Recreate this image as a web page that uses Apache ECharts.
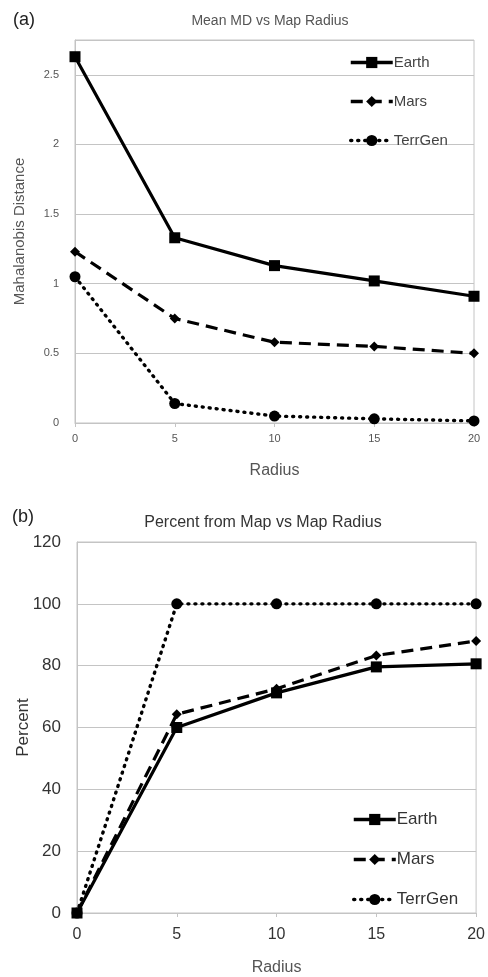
<!DOCTYPE html>
<html>
<head>
<meta charset="utf-8">
<script src="https://cdn.jsdelivr.net/npm/echarts@6/dist/echarts.min.js"></script>
<style>
  html, body { margin: 0; padding: 0; background: #fff; }
  #main { width: 488px; height: 977px; }
</style>
</head>
<body>
<div id="main"></div>
<script>
// radius values shared by both panels
var radius = [0, 5, 10, 15, 20];

// (a) mean Mahalanobis distance
var earthMD = [2.63, 1.33, 1.13, 1.02, 0.91];
var marsMD = [1.23, 0.75, 0.58, 0.55, 0.50];
var terrMD = [1.05, 0.14, 0.05, 0.03, 0.015];

// (b) percent from map
var earthPct = [0, 60, 71.2, 79.6, 80.6];
var marsPct = [0, 64.3, 72.5, 83.3, 88.0];
var terrPct = [0, 100, 100, 100, 100];

var names = ['Earth', 'Mars', 'TerrGen'];

function pairs(ys) {
  return radius.map(function (r, i) { return [r, ys[i]]; });
}

var font = 'Liberation Sans, Arial, sans-serif';
var gridCol = '#c4c4c4';

var styles = [
  { symbol: 'rect', symbolSize: 11, lineStyle: { color: '#000', width: 3.2, type: 'solid' } },
  { symbol: 'diamond', symbolSize: 10, lineStyle: { color: '#000', width: 3.2, type: [12, 7] } },
  { symbol: 'circle', symbolSize: 11, lineStyle: { color: '#000', width: 3.4, type: [1, 6], cap: 'round' } }
];

function mkSeries(gi, datas) {
  return datas.map(function (d, i) {
    return {
      name: names[i],
      type: 'line',
      xAxisIndex: gi,
      yAxisIndex: gi,
      data: pairs(d),
      symbol: styles[i].symbol,
      symbolSize: styles[i].symbolSize,
      showAllSymbol: true,
      itemStyle: { color: '#000' },
      lineStyle: styles[i].lineStyle,
      z: 3 - i
    };
  });
}

function xAxis(gi, fs, col, gap, mg) {
  return {
    type: 'value', gridIndex: gi, min: 0, max: 20, interval: 5,
    name: 'Radius', nameLocation: 'middle', nameGap: gap, nameMoveOverlap: false,
    nameTextStyle: { fontFamily: font, fontSize: 16, color: '#555' },
    axisLine: { show: true, lineStyle: { color: gridCol } },
    axisTick: { show: true, lineStyle: { color: gridCol }, length: 4 },
    axisLabel: { fontFamily: font, fontSize: fs, color: col, margin: mg },
    splitLine: { show: false }
  };
}

var legendLine = { width: 3.5 };

var option = {
  backgroundColor: '#fff',
  animation: false,
  title: [
    { text: '(a)', left: 8, top: 6, textStyle: { fontFamily: font, fontSize: 18, fontWeight: 'normal', color: '#222' } },
    { text: 'Mean MD vs Map Radius', left: 265, textAlign: 'center', top: 9, textStyle: { fontFamily: font, fontSize: 14, fontWeight: 'normal', color: '#555' } },
    { text: '(b)', left: 7, top: 503, textStyle: { fontFamily: font, fontSize: 18, fontWeight: 'normal', color: '#222' } },
    { text: 'Percent from Map vs Map Radius', left: 258, textAlign: 'center', top: 510, textStyle: { fontFamily: font, fontSize: 16, fontWeight: 'normal', color: '#333' } }
  ],
  legend: [
    {
      data: names, orient: 'vertical', left: 344, top: 50, itemWidth: 42, itemHeight: 14, itemGap: 24,
      lineStyle: legendLine,
      textStyle: { fontFamily: font, fontSize: 15, color: '#444', padding: [0, 0, 0, -4] },
      selectedMode: false
    },
    {
      data: names.map(function (n) { return { name: n }; }), orient: 'vertical', left: 347, top: 806, itemWidth: 42, itemHeight: 14, itemGap: 23,
      lineStyle: legendLine,
      textStyle: { fontFamily: font, fontSize: 17, color: '#333', padding: [0, 0, 0, -4] },
      selectedMode: false
    }
  ],
  grid: [
    { left: 75, right: 14, top: 40, bottom: 554, show: true, borderColor: gridCol, borderWidth: 1 },
    { left: 77, right: 10, top: 542, bottom: 62, show: true, borderColor: gridCol, borderWidth: 1 }
  ],
  xAxis: [
    xAxis(0, 11, '#555', 40, 10),
    xAxis(1, 16, '#333', 47, 14)
  ],
  yAxis: [
    {
      type: 'value', gridIndex: 0, min: 0, max: 2.75, interval: 0.5,
      name: 'Mahalanobis Distance', nameLocation: 'middle', nameGap: 48, nameMoveOverlap: false,
      nameTextStyle: { fontFamily: font, fontSize: 15, color: '#555' },
      axisLine: { show: true, lineStyle: { color: gridCol } },
      axisTick: { show: false },
      axisLabel: {
        fontFamily: font, fontSize: 11, color: '#555', margin: 16,
        formatter: function (v) { return (Math.round(v * 100) % 50 === 0) ? String(v) : ''; }
      },
      splitLine: { lineStyle: { color: gridCol } }
    },
    {
      type: 'value', gridIndex: 1, min: 0, max: 120, interval: 20,
      name: 'Percent', nameLocation: 'middle', nameGap: 45, nameMoveOverlap: false,
      nameTextStyle: { fontFamily: font, fontSize: 17, color: '#333' },
      axisLine: { show: true, lineStyle: { color: gridCol } },
      axisTick: { show: false },
      axisLabel: { fontFamily: font, fontSize: 17, color: '#333', margin: 16 },
      splitLine: { lineStyle: { color: gridCol } }
    }
  ],
  series: mkSeries(0, [earthMD, marsMD, terrMD]).concat(mkSeries(1, [earthPct, marsPct, terrPct]))
};

var chart = echarts.init(document.getElementById('main'));
chart.setOption(option);
</script>
</body>
</html>
